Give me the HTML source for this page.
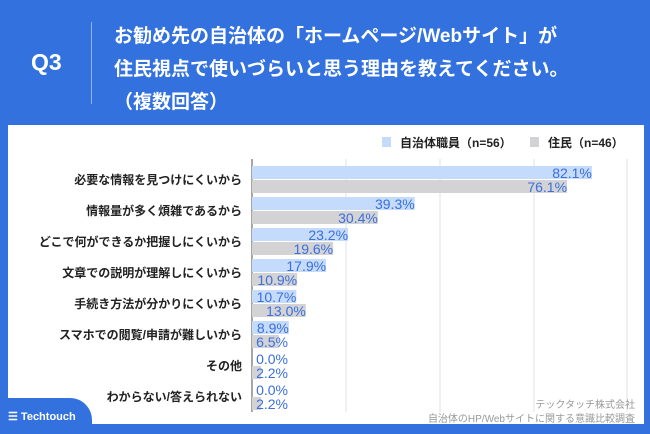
<!DOCTYPE html>
<html><head><meta charset="utf-8"><style>
body{margin:0;width:650px;height:434px;overflow:hidden;background:#3371de;font-family:"Liberation Sans","Noto Sans CJK JP",sans-serif;position:relative}
.a{position:absolute}
</style></head><body>
<div class="a" style="left:31px;top:49px;color:#fff;font-size:23px;font-weight:bold">Q3</div>
<div class="a" style="left:91px;top:22px;width:1px;height:82px;background:#8fb0ee"></div>
<div class="a" style="left:114px;top:20px;color:#fff;font-size:19px;font-weight:bold;line-height:33px;white-space:nowrap">お勧め先の自治体の「ホームページ/Webサイト」が<br>住民視点で使いづらいと思う理由を教えてください。<br>（複数回答）</div>
<div class="a" style="left:8px;top:125px;width:636px;height:299px;background:#fff"></div>
<div class="a" style="left:0;top:398px;width:92px;height:36px;background:#3371de;border-top-right-radius:22px"></div>
<div class="a" style="left:8px;top:410px;color:#fff;font-size:11px;font-weight:bold;white-space:nowrap">☰ Techtouch</div>
<svg class="a" style="left:0;top:0" width="650" height="434" id="svg"></svg>
<div class="a" style="right:15px;top:396px;color:#999;font-size:10px;white-space:nowrap">テックタッチ株式会社</div>
<div class="a" style="right:15px;top:410px;color:#999;font-size:10px;white-space:nowrap">自治体のHP/Webサイトに関する意識比較調査</div>
<script>
const categories=["必要な情報を見つけにくいから","情報量が多く煩雑であるから","どこで何ができるか把握しにくいから","文章での説明が理解しにくいから","手続き方法が分かりにくいから","スマホでの閲覧/申請が難しいから","その他","わからない/答えられない"];
const staffValues=[82.1,39.3,23.2,17.9,10.7,8.9,0.0,0.0];
const residentValues=[76.1,30.4,19.6,10.9,13.0,6.5,2.2,2.2];
const seriesNames=["自治体職員（n=56）","住民（n=46）"];
const NS="http://www.w3.org/2000/svg",svg=document.getElementById('svg');
const x0=252,pxPer=4.14,rowTop=166,rowStep=31,bh=14;
const xs=v=>x0+v*pxPer;
function mk(t,at,txt){const e=document.createElementNS(NS,t);for(const k in at)e.setAttribute(k,at[k]);if(txt!=null)e.textContent=txt;svg.appendChild(e);return e;}
[346,440,534,627].forEach(g=>{const l=mk('line',{x1:g,x2:g,y1:159,y2:412,stroke:'#e2e2e2','stroke-width':1});

});
const ax=mk('line',{x1:x0,x2:x0,y1:159,y2:412,stroke:'#888','stroke-width':1.5});


const cols=['#c5dbfb','#d3d3d6'];
categories.forEach((c,i)=>{
 const y=rowTop+i*rowStep;
 const lb=mk('text',{x:242,y:y+18,'text-anchor':'end','font-size':12,'font-weight':'bold',fill:'#222'},c);
 
 
 [staffValues[i],residentValues[i]].forEach((v,s)=>{
  const by=y+s*bh;
  const end=xs(v);
  const tw=36;
  const bgEnd=Math.max(end,x0+tw);
  const r=mk('rect',{x:x0,y:by,width:Math.max(0,end-x0),height:bh-1,fill:cols[s]});
  
  
  const t=mk('text',{x:bgEnd,y:by+12,'text-anchor':'end','font-size':14,fill:'#3a6fdc'},v.toFixed(1)+'%');
  
  
 });
});
seriesNames.forEach((n,s)=>{const lx=[382,530][s];
 const r=mk('rect',{x:lx,y:137,width:9,height:10,fill:cols[s]});
 
 
 const t=mk('text',{x:lx+18,y:147,'font-size':12,'font-weight':'bold',fill:'#222'},n);
 
 });
</script>
</body></html>
